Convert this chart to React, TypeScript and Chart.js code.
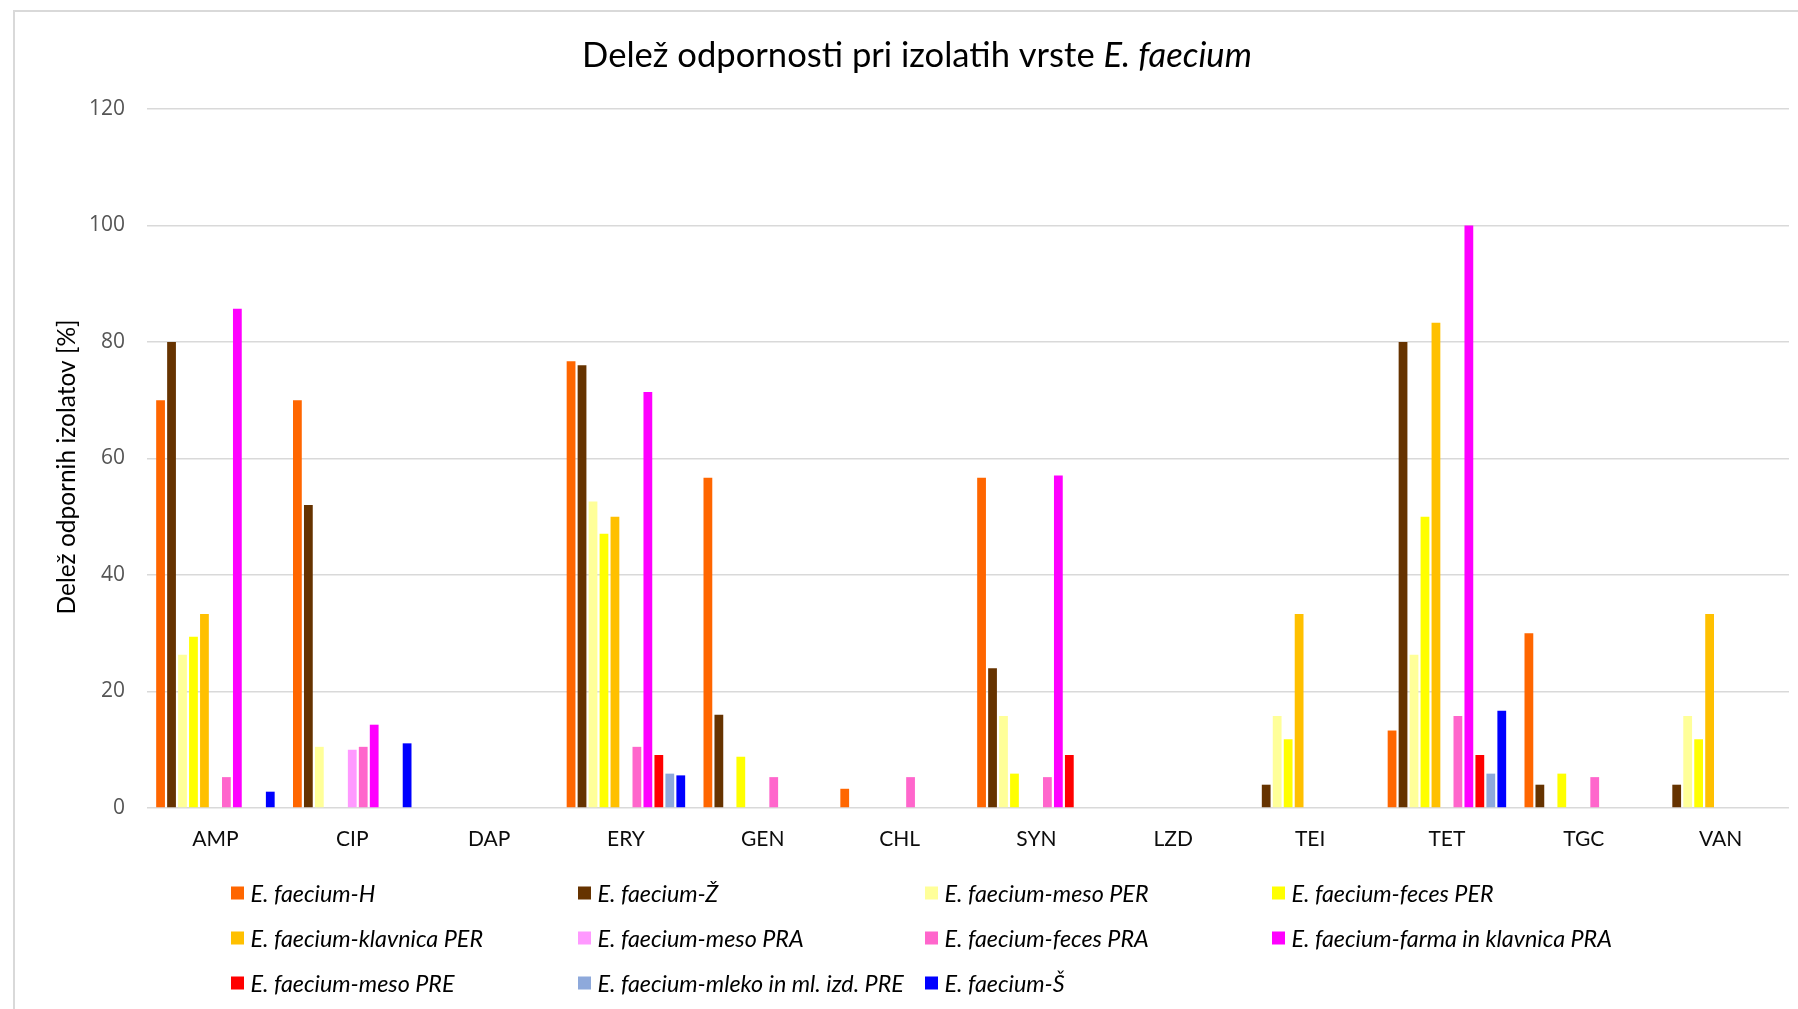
import React, { useEffect, useRef } from 'react';
import { Chart, registerables } from 'chart.js';

Chart.register(...registerables);

// ---------- data ----------
const categories = ['AMP', 'CIP', 'DAP', 'ERY', 'GEN', 'CHL', 'SYN', 'LZD', 'TEI', 'TET', 'TGC', 'VAN'];

const seriesNames = [
  'E. faecium-H',
  'E. faecium-Ž',
  'E. faecium-meso PER',
  'E. faecium-feces PER',
  'E. faecium-klavnica PER',
  'E. faecium-meso PRA',
  'E. faecium-feces PRA',
  'E. faecium-farma in klavnica PRA',
  'E. faecium-meso PRE',
  'E. faecium-mleko in ml. izd. PRE',
  'E. faecium-Š',
];

const seriesColors = [
  '#FF6600', '#663300', '#FFFF99', '#FFFF00', '#FFC000', '#FF99FF',
  '#FF66CC', '#FF00FF', '#FF0000', '#8EA9DB', '#0000FF',
];

const valsH = [70, 70, 0, 76.7, 56.7, 3.3, 56.7, 0, 0, 13.3, 30, 0];
const valsZ = [80, 52, 0, 76, 16, 0, 24, 0, 4, 80, 4, 4];
const valsMesoPER = [26.3, 10.5, 0, 52.6, 0, 0, 15.8, 0, 15.8, 26.3, 0, 15.8];
const valsFecesPER = [29.4, 0, 0, 47.1, 8.8, 0, 5.9, 0, 11.8, 50, 5.9, 11.8];
const valsKlavnicaPER = [33.3, 0, 0, 50, 0, 0, 0, 0, 33.3, 83.3, 0, 33.3];
const valsMesoPRA = [0, 10, 0, 0, 0, 0, 0, 0, 0, 0, 0, 0];
const valsFecesPRA = [5.3, 10.5, 0, 10.5, 5.3, 5.3, 5.3, 0, 0, 15.8, 5.3, 0];
const valsFarmaPRA = [85.7, 14.3, 0, 71.4, 0, 0, 57.1, 0, 0, 100, 0, 0];
const valsMesoPRE = [0, 0, 0, 9.1, 0, 0, 9.1, 0, 0, 9.1, 0, 0];
const valsMlekoPRE = [0, 0, 0, 5.9, 0, 0, 0, 0, 0, 5.9, 0, 0];
const valsS = [2.8, 11.1, 0, 5.6, 0, 0, 0, 0, 0, 16.7, 0, 0];

const seriesValues = [
  valsH, valsZ, valsMesoPER, valsFecesPER, valsKlavnicaPER, valsMesoPRA,
  valsFecesPRA, valsFarmaPRA, valsMesoPRE, valsMlekoPRE, valsS,
];

const yMin = 0;
const yMax = 120;
const yStep = 20;

const titleMain = 'Delež odpornosti pri izolatih vrste ';
const titleItalic = 'E. faecium';
const yAxisTitle = 'Delež odpornih izolatov [%]';

// ---------- layout / styles ----------
const W = 1798;
const H = 1009;
const FONT = 'Lato, "Noto Sans", sans-serif';
const TICK_FONT = '"Open Sans", "Noto Sans", sans-serif';
const GRID = '#d9d9d9';

export default function App() {
  const ref = useRef<HTMLCanvasElement | null>(null);

  useEffect(() => {
    const canvas = ref.current;
    if (!canvas) return;

    const fit = (ctx: CanvasRenderingContext2D, parts: [string, string][], target: number) => {
      let w = 0;
      for (const [style, txt] of parts) {
        ctx.font = `${style} 100px ${FONT}`;
        w += ctx.measureText(txt).width;
      }
      return (100 * target) / w;
    };

    const decor = {
      id: 'decor',
      beforeDraw(chart: any) {
        const ctx = chart.ctx as CanvasRenderingContext2D;
        ctx.save();
        ctx.fillStyle = '#ffffff';
        ctx.fillRect(0, 0, W, H);
        ctx.strokeStyle = GRID;
        ctx.lineWidth = 2;
        ctx.beginPath();
        ctx.moveTo(14, H + 5);
        ctx.lineTo(14, 11);
        ctx.lineTo(W + 5, 11);
        ctx.stroke();
        ctx.restore();
      },
      afterDraw(chart: any) {
        const ctx = chart.ctx as CanvasRenderingContext2D;
        ctx.save();
        // Title
        const ts = fit(ctx, [['normal', titleMain], ['italic', titleItalic]], 670);
        ctx.font = `normal ${ts}px ${FONT}`;
        const w1 = ctx.measureText(titleMain).width;
        ctx.font = `italic ${ts}px ${FONT}`;
        const w2 = ctx.measureText(titleItalic).width;
        const tx = 917 - (w1 + w2) / 2;
        ctx.fillStyle = '#000';
        ctx.textBaseline = 'alphabetic';
        ctx.textAlign = 'left';
        ctx.font = `normal ${ts}px ${FONT}`;
        ctx.fillText(titleMain, tx, 66.5);
        ctx.font = `italic ${ts}px ${FONT}`;
        ctx.fillText(titleItalic, tx + w1, 66.5);

        // Y axis title
        const ys = fit(ctx, [['normal', yAxisTitle]], 295);
        ctx.translate(67, 467);
        ctx.rotate(-Math.PI / 2);
        ctx.font = `normal ${ys}px ${FONT}`;
        ctx.textAlign = 'center';
        ctx.textBaseline = 'middle';
        ctx.fillText(yAxisTitle, 0, 0);
        ctx.restore();

        // Legend
        ctx.save();
        const ls = (fit(ctx, [['italic', seriesNames[0]]], 124) + fit(ctx, [['italic', seriesNames[9]]], 309)) / 2;
        ctx.font = `italic ${ls}px ${FONT}`;
        ctx.textBaseline = 'middle';
        ctx.textAlign = 'left';
        chart.data.datasets.forEach((ds: any, i: number) => {
          const col = i % 4;
          const row = Math.floor(i / 4);
          const bx = 231 + col * 347;
          const cy = 893 + row * 45;
          ctx.fillStyle = ds.backgroundColor;
          ctx.fillRect(bx, cy - 6.5, 13, 13);
          ctx.fillStyle = '#000';
          ctx.fillText(ds.label, bx + 19.5, cy + 1);
        });
        ctx.restore();
      },
    };

    const chart = new Chart(canvas, {
      type: 'bar',
      data: {
        labels: categories,
        datasets: seriesNames.map((name, i) => ({
          label: name,
          data: seriesValues[i],
          backgroundColor: seriesColors[i],
          borderWidth: 0,
          categoryPercentage: 0.882,
          barPercentage: 0.8,
        })),
      },
      options: {
        animation: false,
        responsive: false,
        devicePixelRatio: 1,
        layout: { padding: { top: 109, bottom: H - 808 - 60, left: 0, right: 9 } },
        plugins: {
          legend: { display: false },
          title: { display: false },
          tooltip: { enabled: false },
        },
        scales: {
          x: {
            grid: { display: false, drawTicks: false },
            border: { display: false },
            ticks: {
              padding: 19,
              color: '#0d0d0d',
              font: { family: FONT, size: 21 },
              maxRotation: 0,
              autoSkip: false,
            },
            afterFit: (scale: any) => {
              scale.height = 60;
            },
          },
          y: {
            min: yMin,
            max: yMax,
            grid: { color: GRID, lineWidth: 1.5, drawTicks: false },
            border: { display: false },
            ticks: {
              stepSize: yStep,
              padding: 22,
              color: '#555555',
              font: { family: TICK_FONT, size: 21 },
            },
            afterFit: (scale: any) => {
              scale.width = 147;
            },
          },
        },
      },
      plugins: [decor],
    } as any);

    return () => chart.destroy();
  }, []);

  return (
    <div style={{ position: 'fixed', left: 0, top: 0, width: W, height: H, background: '#fff' }}>
      <canvas ref={ref} width={W} height={H} style={{ display: 'block', width: W, height: H }} />
    </div>
  );
}
